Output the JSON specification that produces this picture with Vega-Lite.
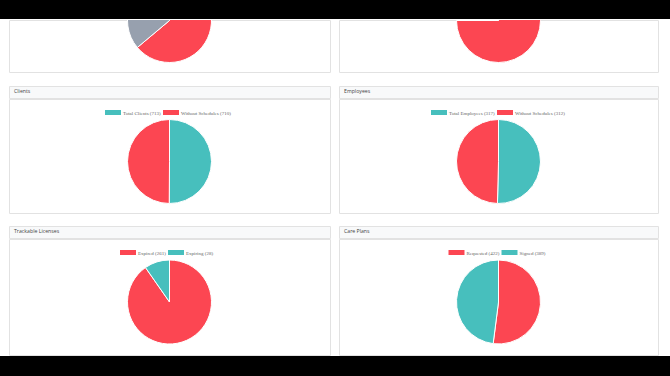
{
  "$schema": "https://vega.github.io/schema/vega-lite/v6.json",
  "padding": 0,
  "background": "white",
  "spacing": 0,
  "resolve": {"scale": {"color": "independent", "theta": "independent"}, "legend": {"color": "independent"}},
  "config": {
    "view": {"stroke": null},
    "title": {"font": "Open Sans", "fontSize": 5.2, "fontWeight": "normal", "color": "#444", "anchor": "start", "frame": "group", "offset": -8.5, "dx": 5},
    "legend": {"symbolType": "M-1.6,-0.5H1.6V0.5H-1.6Z", "symbolSize": 100, "symbolStrokeWidth": 0, "labelFont": "Liberation Serif", "labelFontSize": 5, "labelColor": "#666", "labelOffset": 5, "columnPadding": 2, "orient": "none", "direction": "horizontal"}
  },
  "vconcat": [
    {"width": 670, "height": 19, "view": {"fill": "black", "stroke": null}, "data": {"values": [{}]}, "mark": {"type": "text", "text": ""}, "encoding": {}},
    {
      "hconcat": [
        {"width": 1, "height": 52, "data": {"values": [{}]}, "mark": {"type": "text", "text": ""}, "encoding": {}},
        {
          "width": 321, "height": 52, "view": {"stroke": "#e2e2e2"},
          "data": {"values": [{"name": "Missed", "count": 230}, {"name": "Pending", "count": 130}]},
          "mark": {"type": "arc", "outerRadius": 42, "stroke": "white", "strokeWidth": 1, "yOffset": -25.5, "clip": true},
          "encoding": {
            "theta": {"field": "count", "type": "quantitative"},
            "order": {"field": "name", "sort": "ascending"},
            "color": {"field": "name", "type": "nominal", "sort": null, "scale": {"range": ["#FC4652", "#97A0AE"]}, "legend": null}
          }
        },
        {
          "width": 319, "height": 52, "view": {"stroke": "#e2e2e2"},
          "data": {"values": [{"name": "Late", "count": 270}, {"name": "On Time", "count": 90}]},
          "mark": {"type": "arc", "outerRadius": 42, "stroke": "white", "strokeWidth": 1, "yOffset": -25.5, "clip": true},
          "encoding": {
            "theta": {"field": "count", "type": "quantitative"},
            "order": {"field": "name", "sort": "ascending"},
            "color": {"field": "name", "type": "nominal", "sort": null, "scale": {"range": ["#FC4652", "#47BFBD"]}, "legend": null}
          }
        }
      ],
      "spacing": 7,
      "resolve": {"scale": {"color": "independent", "theta": "independent"}, "legend": {"color": "independent"}}
    },
    {"width": 670, "height": 11, "data": {"values": [{}]}, "mark": {"type": "text", "text": ""}, "encoding": {}},
    {
      "hconcat": [
        {"width": 1, "height": 125, "data": {"values": [{}]}, "mark": {"type": "text", "text": ""}, "encoding": {}},
        {
          "vconcat": [
            {"width": 321, "height": 12, "view": {"fill": "#f8f9fa", "stroke": "#e2e2e2"}, "title": "Clients", "data": {"values": [{}]}, "mark": {"type": "text", "text": ""}, "encoding": {}},
            {
              "width": 321, "height": 114, "view": {"stroke": "#e2e2e2"},
              "data": {"values": [{"name": "Total Clients", "count": 713}, {"name": "Without Schedules", "count": 710}]},
              "transform": [{"calculate": "datum.name + ' (' + datum.count + ')'", "as": "label"}],
              "mark": {"type": "arc", "outerRadius": 42, "stroke": "white", "strokeWidth": 1, "yOffset": 5.5},
              "encoding": {
                "theta": {"field": "count", "type": "quantitative"},
                "order": {"field": "label", "sort": "ascending"},
                "color": {"field": "label", "type": "nominal", "sort": null, "scale": {"range": ["#47BFBD", "#FC4652"]}, "legend": {"title": null, "legendX": 99, "legendY": 8.5}}
              }
            }
          ],
          "spacing": -1,
          "resolve": {"scale": {"color": "independent", "theta": "independent"}, "legend": {"color": "independent"}}
        },
        {
          "vconcat": [
            {"width": 319, "height": 12, "view": {"fill": "#f8f9fa", "stroke": "#e2e2e2"}, "title": "Employees", "data": {"values": [{}]}, "mark": {"type": "text", "text": ""}, "encoding": {}},
            {
              "width": 319, "height": 114, "view": {"stroke": "#e2e2e2"},
              "data": {"values": [{"name": "Total Employees", "count": 317}, {"name": "Without Schedules", "count": 312}]},
              "transform": [{"calculate": "datum.name + ' (' + datum.count + ')'", "as": "label"}],
              "mark": {"type": "arc", "outerRadius": 42, "stroke": "white", "strokeWidth": 1, "yOffset": 5.5},
              "encoding": {
                "theta": {"field": "count", "type": "quantitative"},
                "order": {"field": "label", "sort": "ascending"},
                "color": {"field": "label", "type": "nominal", "sort": null, "scale": {"range": ["#47BFBD", "#FC4652"]}, "legend": {"title": null, "legendX": 95, "legendY": 8.5}}
              }
            }
          ],
          "spacing": -1,
          "resolve": {"scale": {"color": "independent", "theta": "independent"}, "legend": {"color": "independent"}}
        }
      ],
      "spacing": 7,
      "resolve": {"scale": {"color": "independent", "theta": "independent"}, "legend": {"color": "independent"}}
    },
    {"width": 670, "height": 10, "data": {"values": [{}]}, "mark": {"type": "text", "text": ""}, "encoding": {}},
    {
      "hconcat": [
        {"width": 1, "height": 127, "data": {"values": [{}]}, "mark": {"type": "text", "text": ""}, "encoding": {}},
        {
          "vconcat": [
            {"width": 321, "height": 12, "view": {"fill": "#f8f9fa", "stroke": "#e2e2e2"}, "title": "Trackable Licenses", "data": {"values": [{}]}, "mark": {"type": "text", "text": ""}, "encoding": {}},
            {
              "width": 321, "height": 116, "view": {"stroke": "#e2e2e2"},
              "data": {"values": [{"name": "Expired", "count": 261}, {"name": "Expiring", "count": 28}]},
              "transform": [{"calculate": "datum.name + ' (' + datum.count + ')'", "as": "label"}],
              "mark": {"type": "arc", "outerRadius": 42, "stroke": "white", "strokeWidth": 1, "yOffset": 5},
              "encoding": {
                "theta": {"field": "count", "type": "quantitative"},
                "order": {"field": "label", "sort": "ascending"},
                "color": {"field": "label", "type": "nominal", "sort": null, "scale": {"range": ["#FC4652", "#47BFBD"]}, "legend": {"title": null, "legendX": 114, "legendY": 8.5}}
              }
            }
          ],
          "spacing": -1,
          "resolve": {"scale": {"color": "independent", "theta": "independent"}, "legend": {"color": "independent"}}
        },
        {
          "vconcat": [
            {"width": 319, "height": 12, "view": {"fill": "#f8f9fa", "stroke": "#e2e2e2"}, "title": "Care Plans", "data": {"values": [{}]}, "mark": {"type": "text", "text": ""}, "encoding": {}},
            {
              "width": 319, "height": 116, "view": {"stroke": "#e2e2e2"},
              "data": {"values": [{"name": "Requested", "count": 422}, {"name": "Signed", "count": 389}]},
              "transform": [{"calculate": "datum.name + ' (' + datum.count + ')'", "as": "label"}],
              "mark": {"type": "arc", "outerRadius": 42, "stroke": "white", "strokeWidth": 1, "yOffset": 5},
              "encoding": {
                "theta": {"field": "count", "type": "quantitative"},
                "order": {"field": "label", "sort": "ascending"},
                "color": {"field": "label", "type": "nominal", "sort": null, "scale": {"range": ["#FC4652", "#47BFBD"]}, "legend": {"title": null, "legendX": 112.5, "legendY": 8.5}}
              }
            }
          ],
          "spacing": -1,
          "resolve": {"scale": {"color": "independent", "theta": "independent"}, "legend": {"color": "independent"}}
        }
      ],
      "spacing": 7,
      "resolve": {"scale": {"color": "independent", "theta": "independent"}, "legend": {"color": "independent"}}
    },
    {"width": 670, "height": 23, "view": {"fill": "black", "stroke": null}, "data": {"values": [{}]}, "mark": {"type": "text", "text": ""}, "encoding": {}}
  ]
}
